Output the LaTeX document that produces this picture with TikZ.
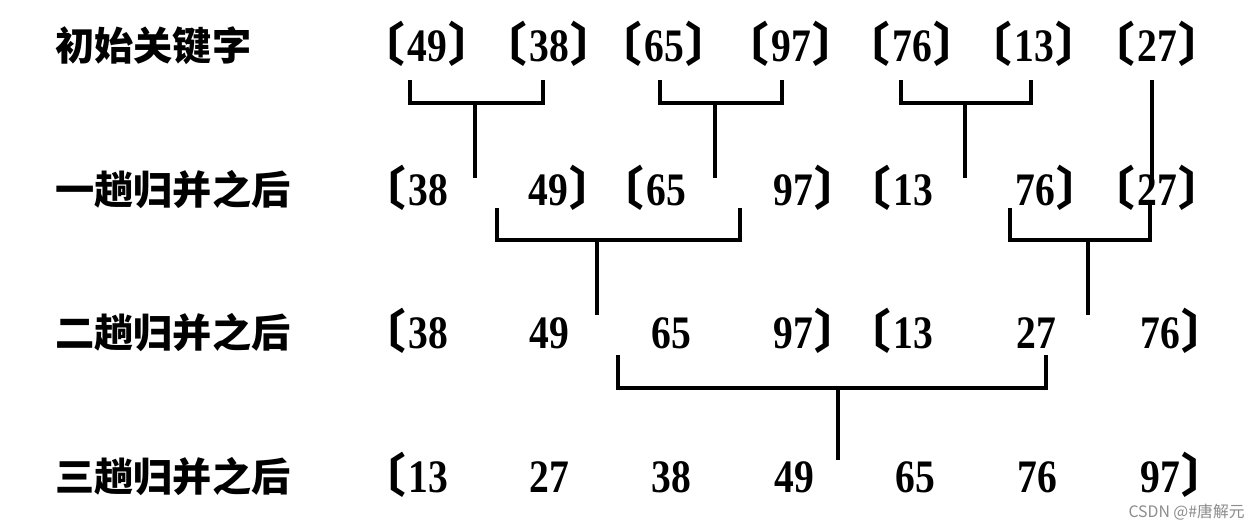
\documentclass[tikz,border=0pt]{standalone}
\usepackage{fontspec}
\newfontfamily\cjk{Noto Sans CJK SC}
\newfontfamily\num{Liberation Serif}[FakeStretch=0.85]
\newfontfamily\wmfont{Noto Sans CJK SC}
\newcommand{\lb}{\llap{\cjk\bfseries 〔\kern1pt}}
\newcommand{\rb}{\rlap{\kern1pt\cjk\bfseries 〕}}
\tikzset{
  lbl/.style={anchor=base west,inner sep=0pt,font=\cjk\bfseries\fontsize{22.3}{24}\selectfont},
  key/.style={anchor=base,inner sep=0pt,font=\num\bfseries\fontsize{26.5}{30}\selectfont},
  conn/.style={line width=1.8pt},
}
\begin{document}
\begin{tikzpicture}[x=0.02cm,y=-0.02cm]
\useasboundingbox[fill=white] (0,0) rectangle (1256,530);
% labels
\node[lbl] (L1) at (55,61) {初始关键字};
\node[lbl] (L2) at (55,204) {一趟归并之后};
\node[lbl] (L3) at (55,347) {二趟归并之后};
\node[lbl] (L4) at (55,491) {三趟归并之后};
% row 1
\node[key] (k11) at (427,62) {\lb49\rb};
\node[key] (k12) at (549,62) {\lb38\rb};
\node[key] (k13) at (664,62) {\lb65\rb};
\node[key] (k14) at (791,62) {\lb97\rb};
\node[key] (k15) at (912,62) {\lb76\rb};
\node[key] (k16) at (1034,62) {\lb13\rb};
\node[key] (k17) at (1157,62) {\lb27\rb};
% row 2
\node[key] (k21) at (428,205) {\lb38};
\node[key] (k22) at (548,205) {49\rb};
\node[key] (k23) at (666,205) {\lb65};
\node[key] (k24) at (793,205) {97\rb};
\node[key] (k25) at (913,205) {\lb13};
\node[key] (k26) at (1035,205) {76\rb};
\node[key] (k27) at (1157,205) {\lb27\rb};
% row 3
\node[key] (k31) at (428,348) {\lb38};
\node[key] (k32) at (549,348) {49};
\node[key] (k33) at (671,348) {65};
\node[key] (k34) at (793,348) {97\rb};
\node[key] (k35) at (913,348) {\lb13};
\node[key] (k36) at (1036,348) {27};
\node[key] (k37) at (1160,348) {76\rb};
% row 4
\node[key] (k41) at (428,492) {\lb13};
\node[key] (k42) at (549,492) {27};
\node[key] (k43) at (671,492) {38};
\node[key] (k44) at (794,492) {49};
\node[key] (k45) at (915,492) {65};
\node[key] (k46) at (1037,492) {76};
\node[key] (k47) at (1160,492) {97\rb};
% connectors row1 -> row2
\draw[conn] (410,80) |- (543,103) -- (543,80);
\draw[conn] (475,103) -- (475,178);
\draw[conn] (660,80) |- (782,103) -- (782,80);
\draw[conn] (715,103) -- (715,178);
\draw[conn] (901,80) |- (1031,103) -- (1031,80);
\draw[conn] (965,103) -- (965,178);
\draw[conn] (1152,80) -- (1152,180);
% row2 -> row3
\draw[conn] (497,208) |- (740,240) -- (740,208);
\draw[conn] (597,240) -- (597,315);
\draw[conn] (1010,208) |- (1150,240) -- (1150,205);
\draw[conn] (1088,240) -- (1088,315);
% row3 -> row4
\draw[conn] (618,355) |- (1046,388) -- (1046,355);
\draw[conn] (838,388) -- (838,460);
% watermark
\node[anchor=east,inner sep=0pt,text=black!45,font=\wmfont\fontsize{9}{10}\selectfont] (wm) at (1245,512) {CSDN @\#唐解元};
\end{tikzpicture}
\end{document}
